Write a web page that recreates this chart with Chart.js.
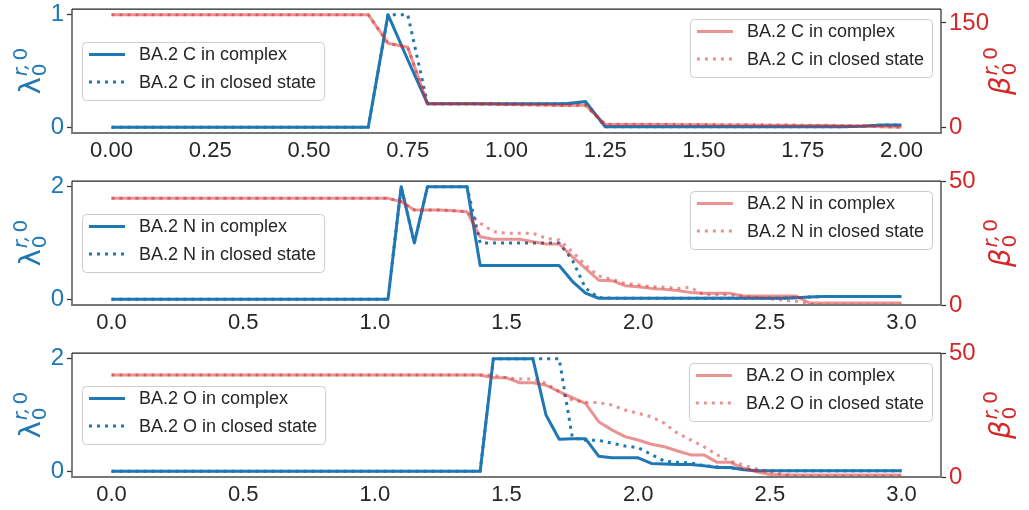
<!DOCTYPE html>
<html>
<head>
<meta charset="utf-8">
<script src="https://cdn.jsdelivr.net/npm/chart.js@4.4.1/dist/chart.umd.min.js"></script>
<style>
    body { margin: 0; background: #fff; }
    .panel { position: absolute; left: 0; width: 1029px; height: 170px; }
</style>
</head>
<body>
<div class="panel" style="top:0px"><canvas id="chartC" width="1029" height="170"></canvas></div>
<div class="panel" style="top:170px"><canvas id="chartN" width="1029" height="170"></canvas></div>
<div class="panel" style="top:340px"><canvas id="chartO" width="1029" height="170"></canvas></div>
<script>
// x grid of the C panel (0..2) and of the N / O panels (0..3)
const xC = [0, 0.05, 0.1, 0.15, 0.2, 0.25, 0.3, 0.35, 0.4, 0.45, 0.5, 0.55, 0.6, 0.65, 0.7, 0.75, 0.8, 0.85, 0.9, 0.95,
    1, 1.05, 1.1, 1.15, 1.2, 1.25, 1.3, 1.35, 1.4, 1.45, 1.5, 1.55, 1.6, 1.65, 1.7, 1.75, 1.8, 1.85, 1.9, 1.95, 2];
const xNO = [0, 0.05, 0.1, 0.15, 0.2, 0.25, 0.3, 0.35, 0.4, 0.45, 0.5, 0.55, 0.6, 0.65, 0.7, 0.75, 0.8, 0.85, 0.9, 0.95,
    1, 1.05, 1.1, 1.15, 1.2, 1.25, 1.3, 1.35, 1.4, 1.45, 1.5, 1.55, 1.6, 1.65, 1.7, 1.75, 1.8, 1.85, 1.9, 1.95,
    2, 2.05, 2.1, 2.15, 2.2, 2.25, 2.3, 2.35, 2.4, 2.45, 2.5, 2.55, 2.6, 2.65, 2.7, 2.75, 2.8, 2.85, 2.9, 2.95, 3];

// tick labels
const xTicksC = [0, 0.25, 0.5, 0.75, 1, 1.25, 1.5, 1.75, 2];
const xTickLabelsC = ['0.00', '0.25', '0.50', '0.75', '1.00', '1.25', '1.50', '1.75', '2.00'];
const xTicksNO = [0, 0.5, 1, 1.5, 2, 2.5, 3];
const xTickLabelsNO = ['0.0', '0.5', '1.0', '1.5', '2.0', '2.5', '3.0'];
const lamTicksC = [0, 1];
const lamTicksNO = [0, 2];
const betaTicksC = [0, 150];
const betaTicksNO = [0, 50];

// legend labels
const labelsC = ['BA.2 C in complex', 'BA.2 C in closed state'];
const labelsN = ['BA.2 N in complex', 'BA.2 N in closed state'];
const labelsO = ['BA.2 O in complex', 'BA.2 O in closed state'];

// --- BA.2 C ---
const lamC_complex = [0, 0, 0, 0, 0, 0, 0, 0, 0, 0, 0, 0, 0, 0, 1, 0.6, 0.21, 0.21, 0.21, 0.21, 0.21, 0.21, 0.21, 0.21,
    0.23, 0.005, 0.005, 0.005, 0.005, 0.005, 0.005, 0.005, 0.005, 0.005, 0.005, 0.005, 0.005, 0.005, 0.01, 0.02, 0.02];
const lamC_closed = [0, 0, 0, 0, 0, 0, 0, 0, 0, 0, 0, 0, 0, 0, 1, 1, 0.21, 0.21, 0.21, 0.21, 0.21, 0.21, 0.21, 0.21,
    0.22, 0.005, 0.005, 0.005, 0.005, 0.005, 0.005, 0.005, 0.005, 0.005, 0.005, 0.005, 0.005, 0.005, 0.01, 0.02, 0.02];
const betaC_complex = [162, 162, 162, 162, 162, 162, 162, 162, 162, 162, 162, 162, 162, 162, 121, 115,
    34, 34, 34, 33.5, 33, 32.5, 32, 31.5, 32, 4, 4, 4, 4, 3.8, 3.6, 3.5, 3.4, 3.2, 3, 2.8, 2.6, 2.4, 1.8, 1, 0.5];
const betaC_closed = [162, 162, 162, 162, 162, 162, 162, 162, 162, 162, 162, 162, 162, 162, 121, 115,
    34, 34, 34, 33.5, 33, 32.5, 32, 31.5, 31.5, 4.5, 4.5, 4.5, 4.5, 4.2, 4, 3.9, 3.8, 3.6, 3.4, 3.2, 3, 2.8, 2, 0.8, 0];

// --- BA.2 N ---
const lamN_complex = [0, 0, 0, 0, 0, 0, 0, 0, 0, 0, 0, 0, 0, 0, 0, 0, 0, 0, 0, 0, 0, 0,
    2, 1, 2, 2, 2, 2, 0.6, 0.6, 0.6, 0.6, 0.6, 0.6, 0.6, 0.32, 0.11, 0.02,
    0.02, 0.02, 0.02, 0.02, 0.02, 0.02, 0.02, 0.02, 0.02, 0.02, 0.02, 0.02, 0.02, 0.02,
    0.03, 0.04, 0.05, 0.05, 0.05, 0.05, 0.05, 0.05, 0.05];
const lamN_closed = [0, 0, 0, 0, 0, 0, 0, 0, 0, 0, 0, 0, 0, 0, 0, 0, 0, 0, 0, 0, 0, 0,
    2, 1, 2, 2, 2, 2, 1, 1, 1, 1, 1, 1, 1, 0.7, 0.2, 0.03,
    0.02, 0.02, 0.02, 0.02, 0.02, 0.02, 0.02, 0.02, 0.02, 0.02, 0.02, 0.02, 0.02, 0.02,
    0.03, 0.04, 0.05, 0.05, 0.05, 0.05, 0.05, 0.05, 0.05];
const betaN_complex = [43, 43, 43, 43, 43, 43, 43, 43, 43, 43, 43, 43, 43, 43, 43, 43, 43, 43, 43, 43, 43, 43,
    41.7, 38.3, 38.3, 38.3, 38, 37.6, 27.5, 26.5, 26.5, 26.5, 25.5, 24.6, 24.6,
    19.5, 14.8, 10, 9.8, 7.8, 7.4, 6.7, 6.3, 5.8, 5, 4.7, 4.7, 4.7, 3.6, 3.6, 3.6, 3.6, 3.6,
    0.8, 0.8, 0.8, 0.8, 0.8, 0.8, 0.8, 0.8];
const betaN_closed = [43, 43, 43, 43, 43, 43, 43, 43, 43, 43, 43, 43, 43, 43, 43, 43, 43, 43, 43, 43, 43, 43,
    41.7, 38.3, 38.3, 38.3, 38, 37.6, 33, 29.6, 28.9, 28.9, 28.9, 26.9, 26.2,
    21.5, 16.1, 11.7, 10.4, 8.7, 8.1, 7.4, 7.2, 6.7, 7.1, 4, 4, 4, 3.5, 3, 2.5, 2, 1.5,
    0.3, 0, 0, 0, 0, 0, 0, 0];

// --- BA.2 O ---
const lamO_complex = [0, 0, 0, 0, 0, 0, 0, 0, 0, 0, 0, 0, 0, 0, 0, 0, 0, 0, 0, 0, 0, 0, 0, 0, 0, 0, 0, 0, 0,
    2, 2, 2, 2, 1, 0.57, 0.58, 0.58, 0.27, 0.24, 0.24, 0.24, 0.14, 0.13, 0.12, 0.12, 0.1, 0.07, 0.07, 0.03, 0.01,
    0.01, 0.01, 0.01, 0.01, 0.01, 0.01, 0.01, 0.01, 0.01, 0.01, 0.01];
const lamO_closed = [0, 0, 0, 0, 0, 0, 0, 0, 0, 0, 0, 0, 0, 0, 0, 0, 0, 0, 0, 0, 0, 0, 0, 0, 0, 0, 0, 0, 0,
    2, 2, 2, 2, 2, 2, 0.6, 0.55, 0.55, 0.5, 0.45, 0.42, 0.3, 0.18, 0.16, 0.15, 0.1, 0.08, 0.06, 0.04, 0.02,
    0.01, 0.01, 0.01, 0.01, 0.01, 0.01, 0.01, 0.01, 0.01, 0.01, 0.01];
const betaO_complex = [41.1, 41.1, 41.1, 41.1, 41.1, 41.1, 41.1, 41.1, 41.1, 41.1, 41.1, 41.1, 41.1, 41.1, 41.1,
    41.1, 41.1, 41.1, 41.1, 41.1, 41.1, 41.1, 41.1, 41.1, 41.1, 41.1, 41.1, 41.1, 41.1,
    40, 40, 38, 38, 37, 34.4, 32, 29.7, 22.3, 19, 16.3, 14.9, 13.2, 12.2, 10.5, 8.9, 8.9, 5.9, 5.9, 3.5, 2.1,
    1, 0.8, 0.8, 0.8, 0.8, 0.8, 0.8, 0.8, 0.8, 0.8, 0.8];
const betaO_closed = [41.1, 41.1, 41.1, 41.1, 41.1, 41.1, 41.1, 41.1, 41.1, 41.1, 41.1, 41.1, 41.1, 41.1, 41.1,
    41.1, 41.1, 41.1, 41.1, 41.1, 41.1, 41.1, 41.1, 41.1, 41.1, 41.1, 41.1, 41.1, 41.1, 41.1,
    40, 39.5, 39.5, 37.8, 34.4, 31, 30.1, 30, 29, 27, 25.7, 24.3, 21.6, 17.6, 14.9, 12.2, 8.9, 6.4, 4.8, 3.2,
    2, 1, 0.3, 0.3, 0.3, 0.3, 0.3, 0.3, 0.3, 0.3, 0.3];

const blue = '#1f77b4';
const red = '#d62728';
const redLine = 'rgba(214, 39, 40, 0.5)';
const textColor = '#262626';
const xTickFont = { family: '"Liberation Sans", Arial, sans-serif', size: 22 };
const yTickFont = { family: '"Liberation Sans", Arial, sans-serif', size: 24 };

function pts(xs, ys) {
    return xs.map(function (x, i) { return { x: x, y: ys[i] }; });
}

// axis label like lambda_0^{r,0}, rotated and drawn from bottom to top
function drawMath(ctx, base, baseX, centerY, color, italic) {
    const bigFont = (italic ? 'italic ' : '') + '29px "DejaVu Sans"';
    const smallFont = '20px "DejaVu Sans"';
    const smallItalic = 'italic 20px "DejaVu Sans"';
    ctx.save();
    ctx.fillStyle = color;
    ctx.textBaseline = 'alphabetic';
    ctx.font = bigFont;
    const wb = ctx.measureText(base).width;
    ctx.font = smallItalic;
    const wr = ctx.measureText('r,').width;
    ctx.font = smallFont;
    const w0 = ctx.measureText('0').width;
    const total = wb + 1 + wr + 3 + w0;
    ctx.translate(baseX, centerY + total / 2);
    ctx.rotate(-Math.PI / 2);
    ctx.font = bigFont;
    ctx.fillText(base, 0, 0);
    ctx.font = smallItalic;
    ctx.fillText('r,', wb + 1, -13);
    ctx.font = smallFont;
    ctx.fillText('0', wb + 1 + wr + 3, -13);
    ctx.fillText('0', wb + 1, 6);
    ctx.restore();
}

function drawLegend(ctx, datasets, x, y, fromRight) {
    ctx.save();
    ctx.font = '18px "Liberation Sans", Arial, sans-serif';
    let tw = 0;
    datasets.forEach(function (d) { tw = Math.max(tw, ctx.measureText(d.label).width); });
    const w = 7 + 36 + 14 + tw + 8;
    const h = 58;
    const left = fromRight ? x - w : x;
    ctx.beginPath();
    ctx.roundRect(left + 0.5, y + 0.5, w, h, 4);
    ctx.fillStyle = 'rgba(255,255,255,0.8)';
    ctx.fill();
    ctx.strokeStyle = '#cccccc';
    ctx.lineWidth = 1;
    ctx.stroke();
    datasets.forEach(function (d, i) {
        const cy = y + 12.5 + i * 27.5;
        ctx.beginPath();
        ctx.setLineDash(d.borderDash || []);
        ctx.strokeStyle = d.borderColor;
        ctx.lineWidth = d.borderWidth;
        ctx.moveTo(left + 7, cy);
        ctx.lineTo(left + 43, cy);
        ctx.stroke();
        ctx.setLineDash([]);
        ctx.fillStyle = textColor;
        ctx.textBaseline = 'middle';
        ctx.fillText(d.label, left + 57, cy + 1);
    });
    ctx.restore();
}

const decor = {
    id: 'decor',
    afterDraw: function (chart) {
        const ctx = chart.ctx;
        const a = chart.chartArea;
        // frame
        ctx.save();
        ctx.strokeStyle = '#555';
        ctx.lineWidth = 1.5;
        ctx.beginPath();
        ctx.moveTo(a.left, a.top); ctx.lineTo(a.left, a.bottom);
        ctx.moveTo(a.right, a.top); ctx.lineTo(a.right, a.bottom);
        ctx.stroke();
        ctx.strokeStyle = '#777';
        ctx.lineWidth = 2;
        ctx.beginPath();
        ctx.moveTo(a.left - 1, a.bottom); ctx.lineTo(a.right + 1, a.bottom);
        ctx.stroke();
        ctx.strokeStyle = '#222';
        ctx.lineWidth = 1.25;
        ctx.beginPath();
        ctx.moveTo(a.left, a.top); ctx.lineTo(a.right, a.top);
        ctx.stroke();
        ctx.restore();
        const ds = chart.data.datasets;
        const midY = (a.top + a.bottom) / 2;
        drawLegend(ctx, [ds[0], ds[1]], a.left + 10, midY - 29, false);
        drawLegend(ctx, [ds[2], ds[3]], a.right - 9, a.top + 10, true);
        drawMath(ctx, '\u03bb', 40, midY, blue, false);
        drawMath(ctx, '\u03b2', 1010, midY, red, true);
    }
};

function noPad(s) {
    s.paddingTop = 0;
    s.paddingBottom = 0;
    s.paddingLeft = 0;
    s.paddingRight = 0;
}

function makePanel(cfg) {
    const ctx = document.getElementById(cfg.id).getContext('2d');
    const H = 170;
    new Chart(ctx, {
        type: 'line',
        data: {
            datasets: [
                { label: cfg.labels[0], data: pts(cfg.x, cfg.lamComplex), yAxisID: 'y', borderColor: blue, borderWidth: 3, order: 3 },
                { label: cfg.labels[1], data: pts(cfg.x, cfg.lamClosed), yAxisID: 'y', borderColor: blue, borderWidth: 3, borderDash: [3, 5], order: 2 },
                { label: cfg.labels[0], data: pts(cfg.x, cfg.betaComplex), yAxisID: 'y2', borderColor: redLine, borderWidth: 3, order: 1 },
                { label: cfg.labels[1], data: pts(cfg.x, cfg.betaClosed), yAxisID: 'y2', borderColor: redLine, borderWidth: 3, borderDash: [3, 5], order: 0 }
            ]
        },
        options: {
            responsive: false,
            animation: false,
            devicePixelRatio: 1,
            elements: { point: { radius: 0 }, line: { tension: 0, borderCapStyle: 'butt', borderJoinStyle: 'round' } },
            layout: { padding: { top: cfg.top, left: 0, right: 0, bottom: 0 } },
            plugins: { legend: { display: false }, tooltip: { enabled: false } },
            scales: {
                x: {
                    type: 'linear',
                    min: cfg.xMin,
                    max: cfg.xMax,
                    afterBuildTicks: function (s) { s.ticks = cfg.xTicks.map(function (v) { return { value: v }; }); },
                    afterFit: function (s) { s.height = H - cfg.bottom; noPad(s); },
                    ticks: {
                        color: textColor, font: xTickFont, padding: 5, maxRotation: 0, autoSkip: false,
                        callback: function (v, i) { return cfg.xTickLabels[i]; }
                    },
                    grid: { display: false, drawTicks: false, tickLength: 0 },
                    border: { display: false }
                },
                y: {
                    position: 'left',
                    min: cfg.lamMin,
                    max: cfg.lamMax,
                    afterBuildTicks: function (s) { s.ticks = cfg.lamTicks.map(function (v) { return { value: v }; }); },
                    afterFit: function (s) { s.width = 72; noPad(s); },
                    ticks: { color: blue, font: yTickFont, padding: 3, callback: function (v) { return String(v); } },
                    grid: { drawOnChartArea: false, tickLength: 5, tickColor: '#333', tickWidth: 1.25 },
                    border: { display: false }
                },
                y2: {
                    position: 'right',
                    min: cfg.betaMin,
                    max: cfg.betaMax,
                    afterBuildTicks: function (s) { s.ticks = cfg.betaTicks.map(function (v) { return { value: v }; }); },
                    afterFit: function (s) { s.width = 88; noPad(s); },
                    ticks: { color: red, font: yTickFont, padding: 3, callback: function (v) { return String(v); } },
                    grid: { drawOnChartArea: false, tickLength: 5, tickColor: '#333', tickWidth: 1.25 },
                    border: { display: false }
                }
            }
        },
        plugins: [decor]
    });
}

makePanel({
    id: 'chartC', top: 9, bottom: 133, x: xC, labels: labelsC,
    xMin: -0.1, xMax: 2.1, xTicks: xTicksC, xTickLabels: xTickLabelsC,
    lamMin: -0.05, lamMax: 1.05, lamTicks: lamTicksC,
    betaMin: -8.1, betaMax: 170.1, betaTicks: betaTicksC,
    lamComplex: lamC_complex, lamClosed: lamC_closed, betaComplex: betaC_complex, betaClosed: betaC_closed
});
makePanel({
    id: 'chartN', top: 11, bottom: 135, x: xNO, labels: labelsN,
    xMin: -0.15, xMax: 3.15, xTicks: xTicksNO, xTickLabels: xTickLabelsNO,
    lamMin: -0.1, lamMax: 2.1, lamTicks: lamTicksNO,
    betaMin: 0, betaMax: 50, betaTicks: betaTicksNO,
    lamComplex: lamN_complex, lamClosed: lamN_closed, betaComplex: betaN_complex, betaClosed: betaN_closed
});
makePanel({
    id: 'chartO', top: 13, bottom: 137, x: xNO, labels: labelsO,
    xMin: -0.15, xMax: 3.15, xTicks: xTicksNO, xTickLabels: xTickLabelsNO,
    lamMin: -0.1, lamMax: 2.1, lamTicks: lamTicksNO,
    betaMin: 0, betaMax: 50, betaTicks: betaTicksNO,
    lamComplex: lamO_complex, lamClosed: lamO_closed, betaComplex: betaO_complex, betaClosed: betaO_closed
});
</script>
</body>
</html>
